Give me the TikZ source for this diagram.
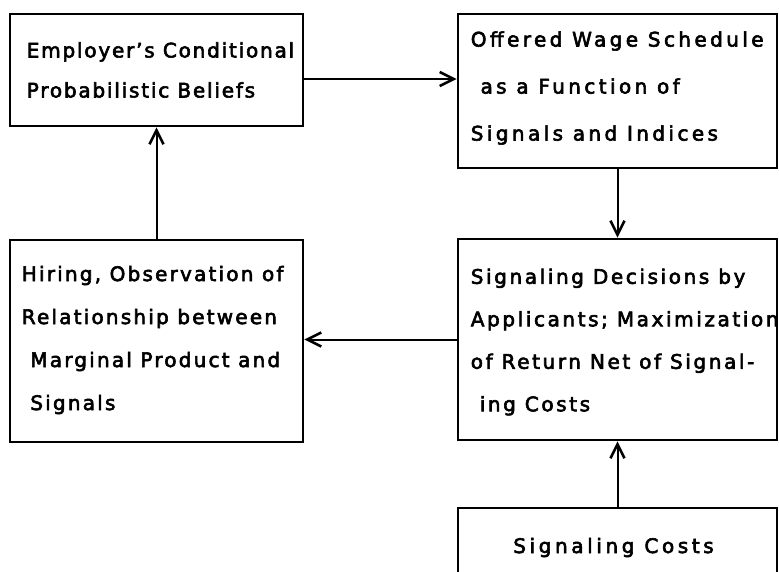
\documentclass[tikz,border=0pt]{standalone}
\usepackage{fontspec}
\setmainfont{DejaVu Sans}[FakeBold=3]
\usetikzlibrary{arrows.meta}
\tikzset{
  box/.style={draw, line width=2.8pt, rectangle, inner sep=0pt},
  txt/.style={anchor=west, align=left, inner sep=0pt},
  arr/.style={line width=2pt, -{Straight Barb[length=14pt,width=14pt,line width=2.6pt]}}
}
\begin{document}
\begin{tikzpicture}[x=1pt,y=-1pt]
\useasboundingbox (0,0) rectangle (779,571);
\clip (0,0) rectangle (779,571);
% boxes
\node[box, minimum width=293pt, minimum height=112pt] (beliefs) at (156.5,70) {};
\node[box, minimum width=319pt, minimum height=154pt] (wage) at (617.5,91) {};
\node[box, minimum width=293pt, minimum height=202pt] (hiring) at (156.5,341) {};
\node[box, minimum width=319pt, minimum height=201pt] (decide) at (617.5,339.5) {};
\node[box, minimum width=319pt, minimum height=100pt] (costs) at (617.5,558) {};
% texts
\node[txt, font=\fontsize{20}{40}\selectfont\addfontfeature{LetterSpace=9}] (beliefs-t) at ([xshift=18pt,yshift=0pt]beliefs.west)
  {Employer's Conditional\\Probabilistic Beliefs};
\node[txt, font=\fontsize{20}{47}\selectfont\addfontfeature{LetterSpace=17}] (wage-t) at ([xshift=14pt,yshift=3pt]wage.west)
  {Offered Wage Schedule\\\ as a Function of\\Signals and Indices};
\node[txt, font=\fontsize{20}{43}\selectfont\addfontfeature{LetterSpace=11}] (hiring-t) at ([xshift=13pt,yshift=1pt]hiring.west)
  {Hiring, Observation of\\Relationship between\\\ Marginal Product and\\\ Signals};
\node[txt, font=\fontsize{20}{42.5}\selectfont\addfontfeature{LetterSpace=13}] (decide-t) at ([xshift=14pt,yshift=-2.5pt]decide.west)
  {Signaling Decisions by\\Applicants; Maximization\\of Return Net of Signal-\\\ ing Costs};
\node[anchor=base, inner sep=0pt, font=\fontsize{20}{24}\selectfont\addfontfeature{LetterSpace=18}] (costs-t) at (613.5,553) {Signaling Costs};
% connectors
\coordinate (p1) at ([yshift=-9pt]beliefs.east);
\draw[arr] (p1) -- (wage.west |- p1);
\draw[arr] (wage.south) -- (decide.north);
\draw[arr] (decide.west) -- (hiring.east |- decide.west);
\draw[arr] (hiring.north) -- (beliefs.south);
\draw[arr] (costs.north) -- (decide.south);
\end{tikzpicture}
\end{document}
